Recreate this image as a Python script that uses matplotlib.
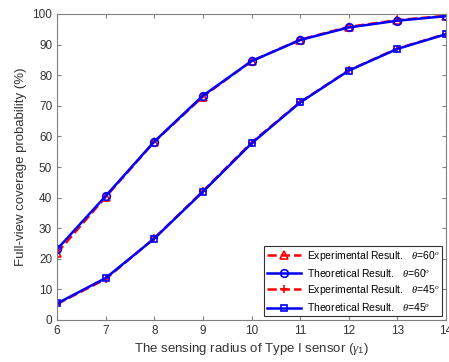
import matplotlib
matplotlib.use('Agg')
import matplotlib.pyplot as plt

plt.rcParams['font.family'] = ['Liberation Sans', 'DejaVu Sans']
plt.rcParams['mathtext.fontset'] = 'custom'
plt.rcParams['mathtext.it'] = 'Liberation Serif:italic'
plt.rcParams['mathtext.rm'] = 'Liberation Sans'

radius = [6, 7, 8, 9, 10, 11, 12, 13, 14]
exp_60 = [21.9, 40.2, 58.2, 73.0, 84.6, 91.6, 95.8, 98.0, 99.4]
theo_60 = [23.1, 40.5, 58.3, 73.3, 84.6, 91.5, 95.6, 97.8, 99.3]
exp_45 = [5.2, 13.4, 26.7, 42.1, 58.0, 71.2, 81.6, 88.7, 93.5]
theo_45 = [5.4, 13.7, 26.6, 41.9, 57.7, 71.1, 81.5, 88.6, 93.4]

fig = plt.figure(figsize=(4.49, 3.62), dpi=100)
ax = fig.add_axes([57 / 449, 42 / 362, 389 / 449, 306 / 362])

ax.plot(radius, exp_60, color='red', ls='--', lw=1.8, marker='^', ms=5.5, mfc='none', mew=1.2,
        label=r'Experimental Result.   $\theta$=60$^o$')
ax.plot(radius, theo_60, color='blue', ls='-', lw=1.8, marker='o', ms=5.5, mfc='none', mew=1.2,
        label=r'Theoretical Result.   $\theta$=60$^o$')
ax.plot(radius, exp_45, color='red', ls='--', lw=1.8, marker='+', ms=5.5, mew=1.2,
        label=r'Experimental Result.   $\theta$=45$^o$')
ax.plot(radius, theo_45, color='blue', ls='-', lw=1.8, marker='s', ms=5, mfc='none', mew=1.2,
        label=r'Theoretical Result.   $\theta$=45$^o$')

ax.set_xlim(6, 14)
ax.set_ylim(0, 100)
ax.set_xticks(radius)
ax.set_yticks(range(0, 101, 10))
ax.tick_params(direction='in', top=True, right=True, labelsize=8.5, labelcolor='#333333',
               color='#808080', length=3)
for s in ax.spines.values():
    s.set_color('#808080')
ax.set_xlabel(r'The sensing radius of Type I sensor ($\gamma_1$)', fontsize=9.5, color='#333333', labelpad=3)
ax.set_ylabel('Full-view coverage probability (%)', fontsize=9.5, color='#333333', labelpad=4)

leg = ax.legend(loc='lower right', fontsize=7.5, fancybox=False, framealpha=1, edgecolor='#333333',
                handlelength=3.3, handletextpad=0.5, borderpad=0.25, labelspacing=0.4,
                borderaxespad=0.4)
leg.get_frame().set_linewidth(0.8)

fig.savefig('out.png', dpi=100)
